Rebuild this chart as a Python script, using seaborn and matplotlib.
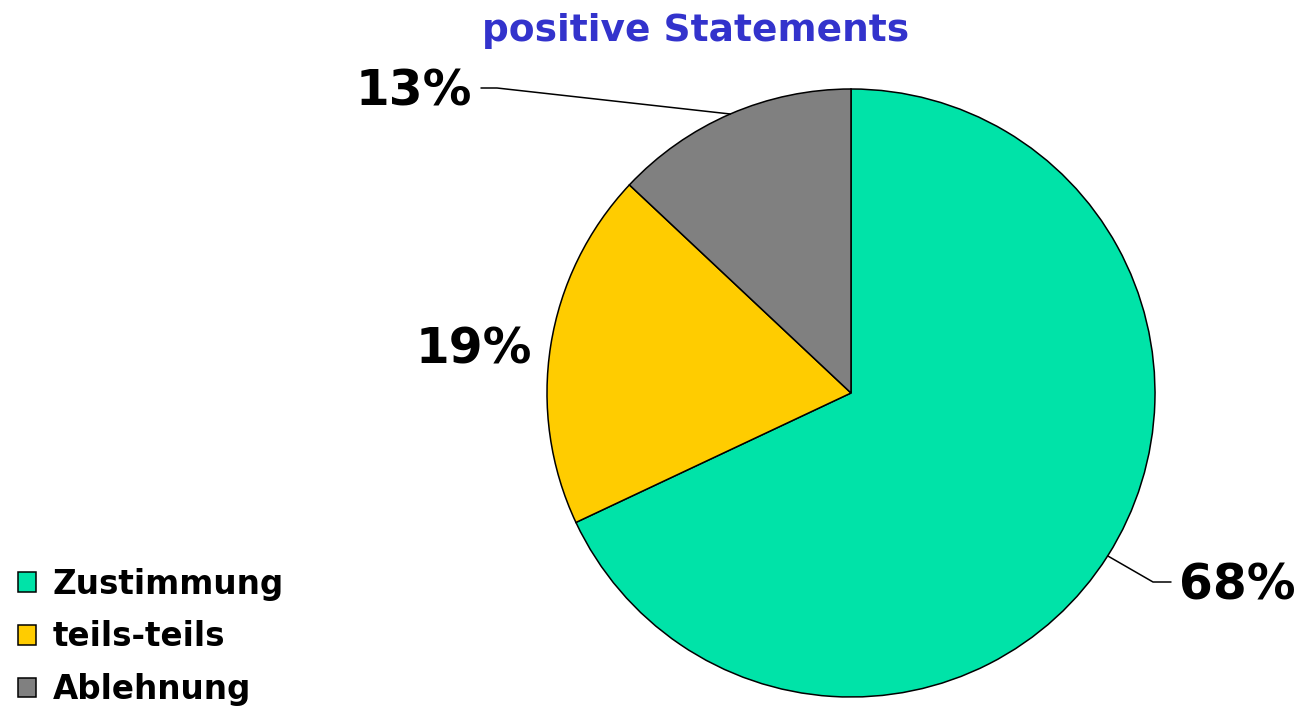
import numpy as np
import matplotlib
matplotlib.use("Agg")
import matplotlib.pyplot as plt
import seaborn as sns

# Share of answers to positive statements
categories = ["Zustimmung", "teils-teils", "Ablehnung"]
shares = [68, 19, 13]
pct_labels = ["68%", "19%", "13%"]
colors = ["#00E3A8", "#FFCC00", "#808080"]

sns.set_theme(style="white")
plt.rcParams["font.family"] = ["DejaVu Sans"]

W, H = 1306, 714
fig = plt.figure(figsize=(W / 100, H / 100), dpi=100)

# pie axes: centre (851, 393) px, radius 304 px
cx, cy, r = 851, 393, 304
ax = fig.add_axes([(cx - r) / W, (H - cy - r) / H, 2 * r / W, 2 * r / H])
wedges, _ = ax.pie(
    shares, colors=colors, startangle=90, counterclock=False,
    wedgeprops=dict(edgecolor="black", linewidth=1.1), radius=1.0,
)
ax.set_xlim(-1, 1)
ax.set_ylim(-1, 1)
ax.set_aspect("equal")
ax.axis("off")

def px(x, y):
    """pixel position (from top-left) to axes data coords"""
    return ((x - cx) / r, (cy - y) / r)

def mid_point(w):
    ang = np.deg2rad((w.theta1 + w.theta2) / 2)
    return np.cos(ang), np.sin(ang)

text_kw = dict(fontsize=35, fontweight="bold", color="black", va="center")

# 68% with leader line
m = mid_point(wedges[0])
elbow = px(1153, 582)
end = px(1171, 582)
ax.plot([m[0], elbow[0], end[0]], [m[1], elbow[1], end[1]], color="black", lw=1.1, clip_on=False)
ax.text(*px(1179, 585), pct_labels[0], ha="left", **text_kw)

# 19% without line
ax.text(*px(532, 349), pct_labels[1], ha="right", **text_kw)

# 13% with leader line
m = mid_point(wedges[2])
elbow = px(497, 88)
end = px(481, 88)
ax.plot([m[0], elbow[0], end[0]], [m[1], elbow[1], end[1]], color="black", lw=1.1, clip_on=False)
ax.text(*px(472, 91), pct_labels[2], ha="right", **text_kw)

fig.text(696 / W, 1 - 31 / H, "positive Statements", ha="center", va="center",
         fontsize=27, fontweight="bold", color="#3333CC")

fig.legend(
    wedges, categories, loc="lower left", bbox_to_anchor=(18 / W, 8 / H),
    frameon=False, prop=dict(size=23.5, weight="bold"), labelcolor="black",
    handlelength=0.55, handleheight=0.55, handletextpad=0.52, labelspacing=0.6,
    borderpad=0, borderaxespad=0,
)

fig.savefig("out.png", dpi=100, facecolor="white")
